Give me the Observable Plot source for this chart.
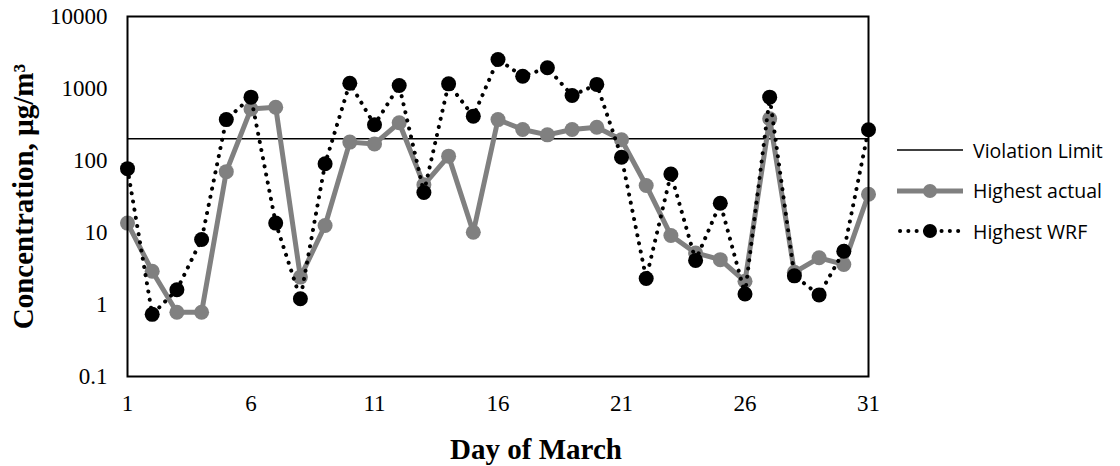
<!DOCTYPE html>
<html>
<head>
<meta charset="utf-8">
<script src="https://cdn.jsdelivr.net/npm/d3@7"></script>
<script src="https://cdn.jsdelivr.net/npm/@observablehq/plot@0.6"></script>
<style>
  body { margin: 0; background: #fff; }
  #wrap { position: relative; width: 1120px; height: 466px; }
  #legend { position: absolute; left: 897px; top: 130px; font-family: "Open Sans", sans-serif; font-size: 19.5px; color: #000; }
  .row { display: flex; align-items: center; height: 40.5px; }
  .row svg { margin-right: 10px; }
</style>
</head>
<body>
<div id="wrap"></div>
<script>
const days = d3.range(1, 32);
const highestActual = [13.5, 2.9, 0.78, 0.78, 70, 520, 550, 2.4, 12.5, 180, 170, 334, 46, 115, 10.1, 370, 270, 227, 270, 290, 194, 45, 9.1, 5.2, 4.2, 2.1, 380, 2.8, 4.45, 3.6, 34];
const highestWRF = [77, 0.73, 1.6, 8.0, 370, 758, 13.5, 1.2, 90, 1185, 313, 1100, 36, 1160, 413, 2530, 1480, 1940, 800, 1140, 111, 2.3, 65, 4.1, 25.5, 1.4, 758, 2.5, 1.36, 5.5, 267];
const violationLimit = 200;
const xTicks = [1, 6, 11, 16, 21, 26, 31];
const yTicks = [0.1, 1, 10, 100, 1000, 10000];
const yTickLabels = ["0.1", "1", "10", "100", "1000", "10000"];
const seriesNames = ["Violation Limit", "Highest actual", "Highest WRF"];

const actual = days.map((d, i) => ({day: d, value: highestActual[i]}));
const wrf = days.map((d, i) => ({day: d, value: highestWRF[i]}));

const chart = Plot.plot({
  width: 1120,
  height: 466,
  marginLeft: 127,
  marginRight: 252,
  marginTop: 16,
  marginBottom: 90,
  style: {fontFamily: "'Liberation Serif', 'Times New Roman', serif", fontSize: "23px", color: "#000", background: "#fff"},
  x: {domain: [1, 31]},
  y: {type: "log", domain: [0.1, 10000]},
  marks: [
    Plot.axisX({ticks: xTicks, tickSize: 0, tickPadding: 18, tickFormat: d => String(d), label: null, fontSize: 23}),
    Plot.axisY({ticks: yTicks, tickSize: 0, tickPadding: 20, tickFormat: d => yTickLabels[yTicks.indexOf(d)], label: null, fontSize: 23}),
    Plot.text(["Day of March"], {frameAnchor: "bottom", dx: 38, dy: 82, fontWeight: "bold", fontSize: 29, textAnchor: "middle", lineAnchor: "bottom"}),
    Plot.text(["Concentration, µg/m³"], {frameAnchor: "left", dx: -104, rotate: -90, fontWeight: "bold", fontSize: 29, textAnchor: "middle"}),
    Plot.ruleY([violationLimit], {stroke: "#000", strokeWidth: 1.5}),
    Plot.line(actual, {x: "day", y: "value", stroke: "#808080", strokeWidth: 5}),
    Plot.dot(actual, {x: "day", y: "value", r: 7.5, fill: "#808080"}),
    Plot.line(wrf, {x: "day", y: "value", stroke: "#000", strokeWidth: 4, strokeDasharray: "0.1 8.2", strokeLinecap: "round"}),
    Plot.dot(wrf, {x: "day", y: "value", r: 7.5, fill: "#000"}),
    Plot.frame({stroke: "#000", strokeWidth: 2})
  ]
});

const wrap = document.getElementById("wrap");
wrap.appendChild(chart);

const legend = document.createElement("div");
legend.id = "legend";
const swatches = [
  `<svg width="66" height="18"><line x1="0" y1="9" x2="66" y2="9" stroke="#000" stroke-width="1.5"/></svg>`,
  `<svg width="66" height="18"><line x1="0" y1="9" x2="66" y2="9" stroke="#808080" stroke-width="5"/><circle cx="33" cy="9" r="7" fill="#808080"/></svg>`,
  `<svg width="66" height="18"><line x1="3" y1="9" x2="64" y2="9" stroke="#000" stroke-width="4" stroke-dasharray="0.1 8.2" stroke-linecap="round"/><circle cx="33" cy="9" r="7" fill="#000"/></svg>`
];
legend.innerHTML = seriesNames.map((n, i) => `<div class="row">${swatches[i]}<span>${n}</span></div>`).join("");
wrap.appendChild(legend);
</script>
</body>
</html>
